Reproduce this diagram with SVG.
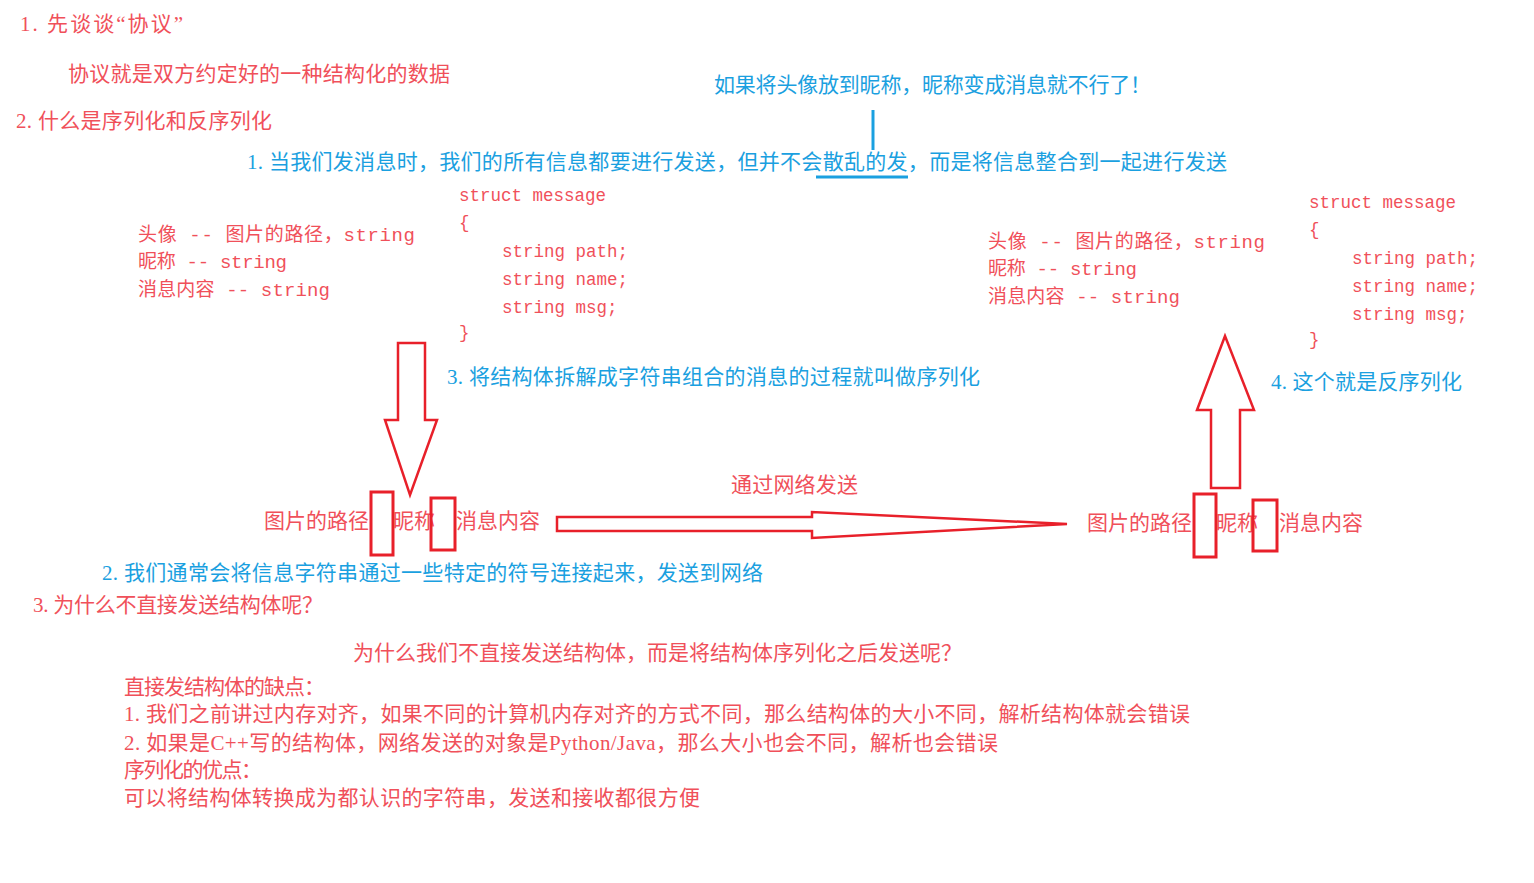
<svg xmlns="http://www.w3.org/2000/svg" width="1534" height="883" viewBox="0 0 1534 883">
<style>
text{font-family:"Liberation Serif","Noto Sans CJK SC",serif;font-size:21px}
.r{fill:#f0505a}
.b{fill:#1aa0e0}
.m{font-family:"Liberation Mono","Noto Sans CJK SC",monospace;font-size:17.5px;fill:#f0505a}
.box{fill:none;stroke:#e8202a;stroke-width:3}
.ar{fill:#fff;stroke:#e8202a;stroke-width:2.5}
</style>
<rect width="1534" height="883" fill="#fff"/>
<g id="texts">
<text class="r" x="20" y="31" textLength="163">1. 先谈谈“协议”</text>
<text class="r" x="68" y="81" textLength="382">协议就是双方约定好的一种结构化的数据</text>
<text class="b" x="714" y="92" textLength="437">如果将头像放到昵称，昵称变成消息就不行了！</text>
<text class="r" x="16" y="128" textLength="256">2. 什么是序列化和反序列化</text>
<text class="b" x="247" y="169" textLength="980">1. 当我们发消息时，我们的所有信息都要进行发送，但并不会散乱的发，而是将信息整合到一起进行发送</text>
<text class="m" x="138" y="241" textLength="277" style="font-size:19px">头像 -- 图片的路径，string</text>
<text class="m" x="138" y="268" textLength="149" style="font-size:19px">昵称 -- string</text>
<text class="m" x="138" y="296" textLength="192" style="font-size:19px">消息内容 -- string</text>
<text class="m" x="459" y="201">struct message</text>
<text class="m" x="459" y="228">{</text>
<text class="m" x="502" y="257">string path;</text>
<text class="m" x="502" y="285">string name;</text>
<text class="m" x="502" y="313">string msg;</text>
<text class="m" x="459" y="338">}</text>
<text class="m" x="988" y="248" textLength="277" style="font-size:19px">头像 -- 图片的路径，string</text>
<text class="m" x="988" y="275" textLength="149" style="font-size:19px">昵称 -- string</text>
<text class="m" x="988" y="303" textLength="192" style="font-size:19px">消息内容 -- string</text>
<text class="m" x="1309" y="208">struct message</text>
<text class="m" x="1309" y="235">{</text>
<text class="m" x="1352" y="264">string path;</text>
<text class="m" x="1352" y="292">string name;</text>
<text class="m" x="1352" y="320">string msg;</text>
<text class="m" x="1309" y="345">}</text>
<text class="b" x="447" y="384" textLength="533">3. 将结构体拆解成字符串组合的消息的过程就叫做序列化</text>
<text class="b" x="1271" y="389" textLength="191">4. 这个就是反序列化</text>
<text class="r" x="731" y="492" textLength="127">通过网络发送</text>
<text class="r" x="264" y="528" textLength="105">图片的路径</text>
<text class="r" x="393" y="528">昵称</text>
<text class="r" x="456" y="528" textLength="84">消息内容</text>
<text class="r" x="1087" y="530" textLength="105">图片的路径</text>
<text class="r" x="1216" y="530">昵称</text>
<text class="r" x="1279" y="530" textLength="84">消息内容</text>
<text class="b" x="102" y="580" textLength="661">2. 我们通常会将信息字符串通过一些特定的符号连接起来，发送到网络</text>
<text class="r" x="33" y="612" textLength="290">3. 为什么不直接发送结构体呢？</text>
<text class="r" x="353" y="660" textLength="609">为什么我们不直接发送结构体，而是将结构体序列化之后发送呢？</text>
<text class="r" x="124" y="694" textLength="201">直接发结构体的缺点：</text>
<text class="r" x="124" y="721" textLength="1066">1. 我们之前讲过内存对齐，如果不同的计算机内存对齐的方式不同，那么结构体的大小不同，解析结构体就会错误</text>
<text class="r" x="124" y="750" textLength="874">2. 如果是C++写的结构体，网络发送的对象是Python/Java，那么大小也会不同，解析也会错误</text>
<text class="r" x="124" y="777" textLength="138">序列化的优点：</text>
<text class="r" x="124" y="805" textLength="576">可以将结构体转换成为都认识的字符串，发送和接收都很方便</text>
</g>
<g id="connectors">
<line x1="873" y1="110" x2="873" y2="150" stroke="#1aa0e0" stroke-width="3"/>
<line x1="816" y1="177" x2="908" y2="177" stroke="#1aa0e0" stroke-width="3"/>
<polygon class="ar" points="398,343 425,343 425,420 437,420 410,495 385,420 398,420"/>
<polygon class="ar" points="1211,488 1240,488 1240,410 1254,410 1225,336 1197,410 1211,410"/>
<polygon class="ar" points="557,517 812,517 812,512 1067,524 812,538 812,531 557,531"/>
<rect class="box" x="371" y="492" width="22" height="63"/>
<rect class="box" x="431" y="498" width="24" height="52"/>
<rect class="box" x="1194" y="494" width="22" height="63"/>
<rect class="box" x="1253" y="500" width="24" height="51"/>
</g>
</svg>
